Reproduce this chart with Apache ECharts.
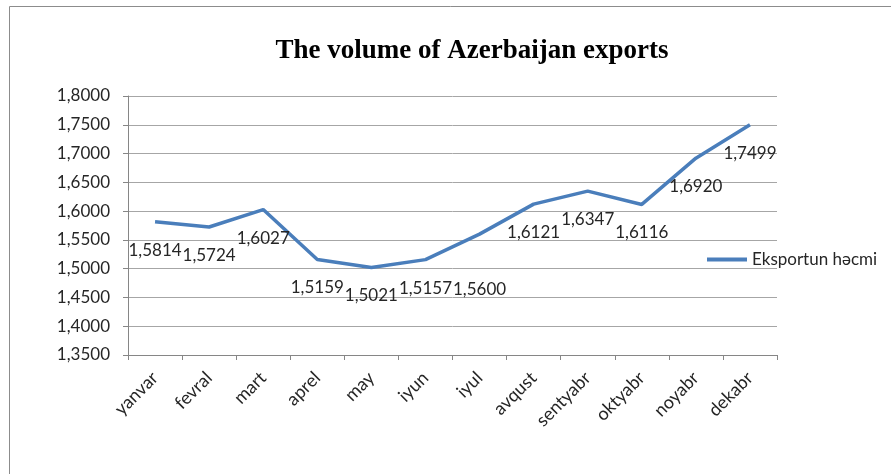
<!DOCTYPE html>
<html>
<head>
<meta charset="utf-8">
<script src="https://cdn.jsdelivr.net/npm/echarts@6/dist/echarts.min.js"></script>
<style>
  html, body { margin: 0; padding: 0; background: #ffffff; }
  #chart { width: 891px; height: 474px; }
</style>
</head>
<body>
<div id="chart"></div>
<script>
// Monthly export volume
const months = ['yanvar', 'fevral', 'mart', 'aprel', 'may', 'iyun', 'iyul', 'avqust', 'sentyabr', 'oktyabr', 'noyabr', 'dekabr'];
const exportVolume = [1.5814, 1.5724, 1.6027, 1.5159, 1.5021, 1.5157, 1.5600, 1.6121, 1.6347, 1.6116, 1.6920, 1.7499];
const seriesName = 'Eksportun həcmi';
const chartTitle = 'The volume of Azerbaijan exports';
const yMin = 1.35, yMax = 1.8, yStep = 0.05;

const labelFont = 'Lato, "Open Sans", sans-serif';
const comma = v => Number(v).toFixed(4).replace('.', ',');

// one label sits lower than the others
const labelShift = { 6: [0, 27] };
const seriesData = exportVolume.map((v, i) =>
  labelShift[i] ? { value: v, label: { offset: labelShift[i] } } : v);

const chart = echarts.init(document.getElementById('chart'), null, { renderer: 'canvas' });
chart.setOption({
  backgroundColor: '#ffffff',
  animation: false,
  title: {
    text: chartTitle,
    left: 467,
    top: 33,
    textAlign: 'center',
    textStyle: { fontFamily: '"Liberation Serif", "Times New Roman", serif', fontWeight: 'bold', fontSize: 27, color: '#000000' }
  },
  graphic: [{
    type: 'rect',
    shape: { x: 9.5, y: 6.5, width: 900, height: 480 },
    style: { fill: 'none', stroke: '#8c8c8c', lineWidth: 1 },
    silent: true,
    z: -1
  }],
  legend: {
    data: [seriesName],
    left: 702,
    top: 246,
    icon: 'rect',
    itemWidth: 40,
    itemHeight: 4,
    textStyle: { fontFamily: labelFont, fontSize: 17, color: '#262626' }
  },
  grid: { left: 128, right: 114, top: 96, bottom: 119 },
  xAxis: {
    type: 'category',
    data: months,
    boundaryGap: true,
    axisLine: { lineStyle: { color: '#868686', width: 1 } },
    axisTick: { show: true, length: 5, inside: false, lineStyle: { color: '#868686' } },
    axisLabel: { rotate: 45, margin: 20, fontFamily: labelFont, fontSize: 18, color: '#262626', interval: 0 }
  },
  yAxis: {
    type: 'value',
    min: yMin,
    max: yMax,
    interval: yStep,
    axisLine: { show: true, lineStyle: { color: '#868686', width: 1 } },
    axisTick: { show: true, length: 5, inside: false, lineStyle: { color: '#868686' } },
    axisLabel: { margin: 18, fontFamily: labelFont, fontSize: 17, color: '#262626', formatter: comma },
    splitLine: { show: true, lineStyle: { color: '#a6a6a6', width: 1 } }
  },
  series: [{
    name: seriesName,
    type: 'line',
    data: seriesData,
    symbol: 'circle',
    symbolSize: 0,
    showSymbol: true,
    lineStyle: { color: '#4a7ebb', width: 3.5 },
    itemStyle: { color: '#4a7ebb' },
    label: {
      show: true,
      position: 'bottom',
      distance: 20,
      fontFamily: labelFont,
      fontSize: 17,
      color: '#262626',
      formatter: p => comma(p.value)
    }
  }]
});
</script>
</body>
</html>
